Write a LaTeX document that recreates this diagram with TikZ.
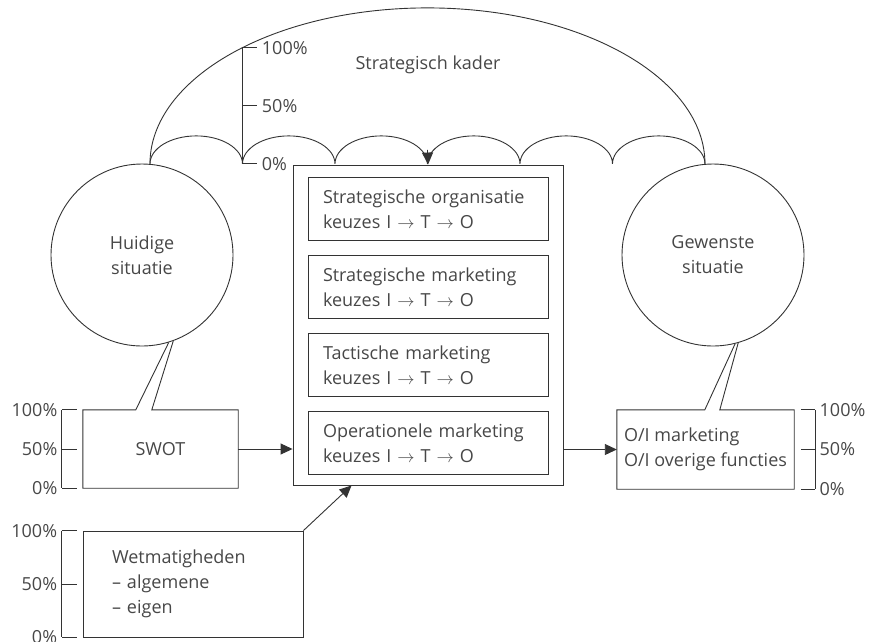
\documentclass[tikz,border=0pt]{standalone}
\usepackage{fontspec}
\setmainfont{Open Sans}
\usetikzlibrary{arrows.meta, calc}
\definecolor{lijnkleur}{gray}{0.2}
\definecolor{tekstkleur}{gray}{0.28}
\tikzset{
    lijn/.style={draw=lijnkleur, line width=0.9pt},
    pijl/.style={lijn, -{Triangle[length=12pt, width=11pt]}},
    kader/.style={lijn, rectangle, inner sep=0pt, text=tekstkleur},
    ballon/.style={rectangle, inner sep=0pt, text=tekstkleur},
    keuze/.style={kader, minimum height=63pt, text width=210pt, inner xsep=15pt, align=left},
    situatie/.style={lijn, circle, minimum size=182pt, inner sep=0pt, align=center, text=tekstkleur},
    pct/.style={text=tekstkleur, inner xsep=4pt, inner ysep=2pt},
}
\begin{document}
\begin{tikzpicture}[x=1pt, y=-1pt, font=\fontsize{18pt}{25pt}\selectfont]
\useasboundingbox (0,0) rectangle (869,641);

% Situaties
\node[situatie] (huidig)  at (142,255) {Huidige\\situatie};
\node[situatie] (gewenst) at (713,255) {Gewenste\\situatie};

% Keuzes
\node[kader, minimum width=270pt, minimum height=320pt] (keuzes) at (428,325) {};
\node[keuze] (org)  at (428,209) {Strategische organisatie\\keuzes I $\rightarrow$ T $\rightarrow$ O};
\node[keuze] (smar) at (428,287) {Strategische marketing\\keuzes I $\rightarrow$ T $\rightarrow$ O};
\node[keuze] (tmar) at (428,365) {Tactische marketing\\keuzes I $\rightarrow$ T $\rightarrow$ O};
\node[keuze] (omar) at (428,443) {Operationele marketing\\keuzes I $\rightarrow$ T $\rightarrow$ O};

% SWOT, doel en wetmatigheden
\node[ballon, minimum width=155pt, minimum height=78pt] (swot) at (160.5,449) {SWOT};
\node[ballon, minimum width=177pt, minimum height=79pt, align=left] (doel) at (705.5,449.5) {O/I marketing\\O/I overige functies};
\node[kader, minimum width=220pt, minimum height=106pt, text width=162pt, inner xsep=29pt, align=left] (wet) at (193,584) {Wetmatigheden\\-- algemene\\-- eigen};

% Ballonnen
\coordinate (swotL) at ([xshift=53pt]swot.north west);
\coordinate (swotR) at ([xshift=69pt]swot.north west);
\draw[lijn] (huidig.-73) -- (swotL) -- (swot.north west) |- (swot.south east) |- (swotR) -- (huidig.-70);
\coordinate (doelL) at ([xshift=88pt]doel.north west);
\coordinate (doelR) at ([xshift=103pt]doel.north west);
\draw[lijn] (gewenst.-76) -- (doelL) -- (doel.north west) |- (doel.south east) |- (doelR) -- (gewenst.-74);

% Pijlen
\draw[pijl] (swot.east) -- (swot.east -| keuzes.west);
\draw[pijl] (keuzes.east |- doel.west) -- (doel.west);
\draw[pijl] (wet.north east) -- ([xshift=59pt]keuzes.south west);

% Strategisch kader
\coordinate (kaderL) at (huidig.85);
\draw[lijn] (kaderL) arc[start angle=180, end angle=0, x radius=277.5pt, y radius=156pt];
\draw[lijn] (kaderL) \foreach \i in {1,...,6} {arc[start angle=180, end angle=0, x radius=46.25pt, y radius=28pt]};
\node[text=tekstkleur] (kadertekst) at (428,65) {Strategisch kader};
\draw[pijl] ($(kaderL)+(277.5,-14)$) -- (keuzes.north);

% Schalen
\coordinate (nul) at ($(kaderL)+(92.5,0)$);
\coordinate (vol) at ($(nul)+(0,-116.3)$);
\draw[lijn] (nul) -- (vol);
\foreach \p/\t in {0/0, 0.5/50, 1/100}
  \draw[lijn] ($(nul)!\p!(vol)$) -- ++(15,0) node[pct, right] {\t\%};

\draw[lijn] ([xshift=-21pt]swot.north west) -- ([xshift=-21pt]swot.south west);
\foreach \p/\t in {0/100, 0.5/50, 1/0}
  \draw[lijn] ($(swot.north west)!\p!(swot.south west)+(-6,0)$) -- ++(-15,0) node[pct, left] {\t\%};

\draw[lijn] ([xshift=-21pt]wet.north west) -- ([xshift=-21pt]wet.south west);
\foreach \p/\t in {0/100, 0.5/50, 1/0}
  \draw[lijn] ($(wet.north west)!\p!(wet.south west)+(-6,0)$) -- ++(-15,0) node[pct, left] {\t\%};

\draw[lijn] ([xshift=21pt]doel.north east) -- ([xshift=21pt]doel.south east);
\foreach \p/\t in {0/100, 0.5/50, 1/0}
  \draw[lijn] ($(doel.north east)!\p!(doel.south east)+(7,0)$) -- ++(14,0) node[pct, right] {\t\%};
\end{tikzpicture}
\end{document}
